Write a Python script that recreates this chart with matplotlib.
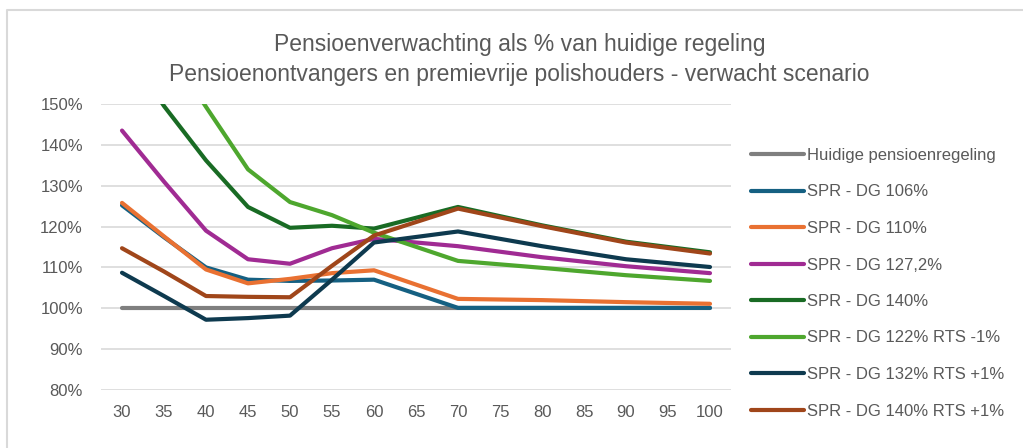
import matplotlib.pyplot as plt
from matplotlib.lines import Line2D

plt.rcParams['font.family'] = ['Liberation Sans Narrow', 'Liberation Sans', 'DejaVu Sans']

leeftijd = [30, 35, 40, 45, 50, 55, 60, 70, 80, 90, 100]
ticks = list(range(30, 101, 5))

huidig = [100, 100, 100, 100, 100, 100, 100, 100, 100, 100, 100]
dg106 = [125.2, 117.4, 110.0, 107.0, 106.7, 106.8, 107.0, 100.1, 100.1, 100.1, 100.1]
dg110 = [125.8, 117.6, 109.5, 106.1, 107.2, 108.6, 109.3, 102.3, 102.0, 101.5, 101.1]
dg127 = [143.5, 131.0, 119.0, 112.0, 110.9, 114.7, 117.0, 115.2, 112.5, 110.3, 108.6]
dg140 = [165.0, 149.5, 136.2, 124.8, 119.7, 120.2, 119.5, 124.8, 120.3, 116.3, 113.7]
dg122_rts = [180.0, 165.0, 149.3, 134.0, 126.0, 122.8, 118.5, 111.6, 109.9, 108.1, 106.7]
dg132_rts = [108.7, 103.0, 97.2, 97.6, 98.2, 107.0, 116.1, 118.8, 115.2, 112.0, 110.1]
dg140_rts = [114.7, 109.0, 103.0, 102.8, 102.7, 110.4, 117.8, 124.4, 120.1, 116.1, 113.4]

series = [
    ("Huidige pensioenregeling", huidig, "#7f7f7f"),
    ("SPR - DG 106%", dg106, "#156082"),
    ("SPR - DG 110%", dg110, "#e97132"),
    ("SPR - DG 127,2%", dg127, "#a02b93"),
    ("SPR - DG 140%", dg140, "#196b24"),
    ("SPR - DG 122% RTS -1%", dg122_rts, "#4ea72e"),
    ("SPR - DG 132% RTS +1%", dg132_rts, "#0e3a4f"),
    ("SPR - DG 140% RTS +1%", dg140_rts, "#a0461a"),
]

text_grey = "#595959"

fig = plt.figure(figsize=(10.23, 4.48), dpi=100)
ax = fig.add_axes([101 / 1023, 1 - 390 / 448, 630 / 1023, 286 / 448])

for label, vals, col in series:
    ax.plot(leeftijd, vals, color=col, lw=3, solid_capstyle="round",
            solid_joinstyle="round", label=label)

ax.set_xlim(27.5, 102.5)
ax.set_ylim(80, 150)
ax.set_xticks(ticks)
ax.set_xticklabels([str(t) for t in ticks])
ax.set_yticks(range(80, 151, 10))
ax.set_yticklabels([f"{v}%" for v in range(80, 151, 10)])
ax.tick_params(length=0, labelsize=12, colors=text_grey)
ax.tick_params(axis="x", pad=11)
ax.tick_params(axis="y", pad=13)
ax.grid(axis="y", color="#d9d9d9", lw=1.2)
ax.set_axisbelow(True)
for s in ax.spines.values():
    s.set_visible(False)

fig.text(0.508, 1 - 45 / 448, "Pensioenverwachting als % van huidige regeling",
         ha="center", va="center", fontsize=16.5, color=text_grey)
fig.text(0.508, 1 - 75 / 448,
         "Pensioenontvangers en premievrije polishouders - verwacht scenario",
         ha="center", va="center", fontsize=16.5, color=text_grey)

handles = [Line2D([], [], color=c, lw=3, solid_capstyle="round") for _, _, c in series]
leg = fig.legend(handles, [s[0] for s in series], loc="upper left",
                 bbox_to_anchor=(751 / 1023, 1 - 148 / 448), frameon=False,
                 fontsize=12, handlelength=3.2, handletextpad=0.15,
                 labelspacing=1.29, borderpad=0, borderaxespad=0)
for t in leg.get_texts():
    t.set_color(text_grey)

# chart border (top and left edges)
fig.add_artist(Line2D([7 / 1023, 7 / 1023, 1], [0, 1 - 10 / 448, 1 - 10 / 448],
                      transform=fig.transFigure, color="#d9d9d9", lw=1.5))

fig.savefig("out.png", dpi=100)
plt.close(fig)
